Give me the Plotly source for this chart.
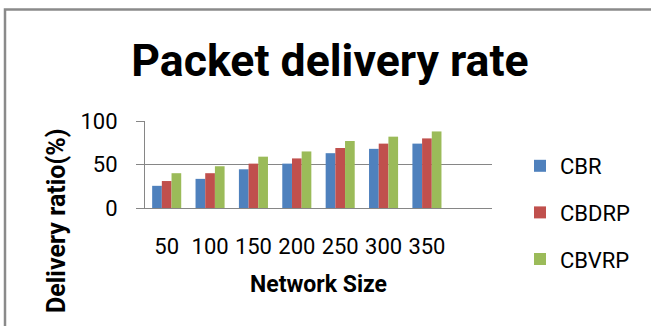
import plotly.graph_objects as go

# Packet delivery ratio (%) per network size for the three routing protocols
network_sizes = ["50", "100", "150", "200", "250", "300", "350"]
cbr = [25.5, 33.5, 44.5, 51, 63, 68, 74]
cbdrp = [31, 40, 51, 57, 69, 74, 80]
cbvrp = [40, 48, 59, 65, 77, 82, 88]
y_ticks = [0, 50, 100]

series = [
    ("CBR", cbr, "#4F81BD"),
    ("CBDRP", cbdrp, "#C0504D"),
    ("CBVRP", cbvrp, "#9BBB59"),
]

W, H = 651, 326
L, R, T, B = 145, 159, 121, 118
pw, ph = W - L - R, H - T - B


def px_x(x):
    return (x - L) / pw


def px_y(y):
    return (H - B - y) / ph


positions = list(range(len(network_sizes)))

fig = go.Figure()
for name, vals, color in series:
    fig.add_trace(go.Bar(
        x=positions, y=vals, name=name, legendgroup=name,
        marker=dict(color=color, line=dict(width=0)),
    ))

grid = "#868686"
fig.update_layout(
    width=W, height=H,
    margin=dict(l=L, r=R, t=T, b=B, pad=0),
    paper_bgcolor="white", plot_bgcolor="white",
    barmode="group", bargap=0.33, bargroupgap=0,
    font=dict(family="Roboto, Arial, sans-serif", color="black"),
    title=dict(
        text="<b>Packet delivery rate</b>",
        font=dict(size=44.6, family="Roboto", color="black"),
        x=px_x(330), xref="paper", xanchor="center",
        y=1 - 60 / H, yref="container", yanchor="middle",
    ),
    xaxis=dict(
        range=[-0.5, 7.5],
        tickvals=positions, ticktext=network_sizes,
        ticks="outside", ticklen=19, tickcolor="rgba(0,0,0,0)",
        tickfont=dict(size=22, family="Roboto"),
        showline=True, linecolor=grid, linewidth=1,
        showgrid=False, zeroline=False,
        fixedrange=True,
    ),
    yaxis=dict(
        range=[0, 100], tickvals=y_ticks,
        ticks="outside", ticklen=8, tickcolor=grid, tickwidth=1,
        ticklabelstandoff=14,
        tickfont=dict(size=22, family="Roboto"),
        showline=True, linecolor=grid, linewidth=1,
        showgrid=True, gridcolor=grid, gridwidth=1,
        zeroline=False, fixedrange=True,
    ),
    legend=dict(
        x=px_x(520), xref="paper", xanchor="left",
        y=px_y(145), yref="paper", yanchor="top",
        maxheight=300,
        traceorder="grouped", tracegroupgap=15,
        font=dict(size=22, family="Roboto"),
        bgcolor="rgba(0,0,0,0)",
    ),
    annotations=[
        dict(
            text="<b>Delivery ratio(%)</b>", textangle=-90,
            font=dict(size=25, family="Roboto"),
            x=px_x(56.5), y=px_y(221.5), xref="paper", yref="paper",
            xanchor="center", yanchor="middle", showarrow=False,
        ),
        dict(
            text="<b>Network Size</b>",
            font=dict(size=23, family="Roboto"),
            x=px_x(318), y=px_y(284.5), xref="paper", yref="paper",
            xanchor="center", yanchor="middle", showarrow=False,
        ),
    ],
    shapes=[
        dict(
            type="path", xref="paper", yref="paper",
            path=f"M {px_x(5)} {px_y(335)} L {px_x(5)} {px_y(9.5)} L {px_x(660)} {px_y(9.5)}",
            line=dict(color="#8a8a8a", width=2.5),
        ),
    ],
)

fig.write_html("out.html")
